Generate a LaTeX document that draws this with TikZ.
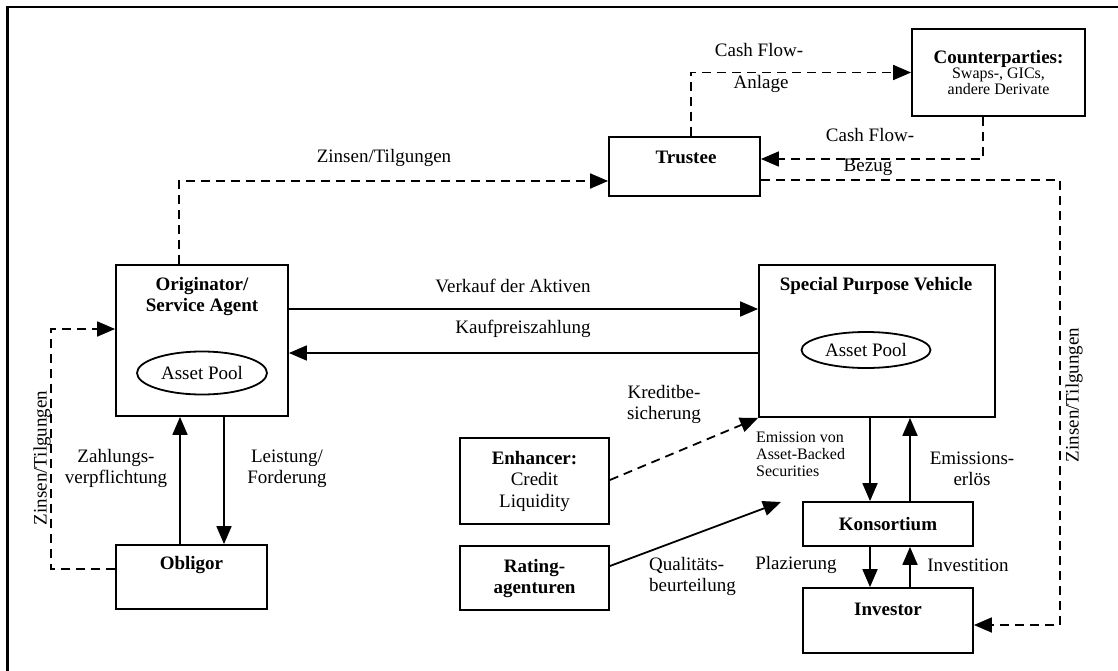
\documentclass[tikz,border=0pt]{standalone}
\usepackage{fontspec}
\setmainfont{Liberation Serif}
\usetikzlibrary{arrows.meta,shapes.geometric}
\begin{document}
\begin{tikzpicture}[x=1pt,y=-1pt,
  box/.style={draw,line width=1.8pt,inner sep=0pt},
  conn/.style={line width=1.8pt,-{Triangle[length=18pt,width=15pt]}},
  dsh/.style={conn,dash pattern=on 9pt off 6pt},
  lbl/.style={font=\fontsize{19}{21}\selectfont,align=center,inner sep=0pt},
  ttl/.style={font=\fontsize{19}{21}\selectfont\bfseries,align=center,inner sep=0pt},
  sml/.style={font=\fontsize{16}{17}\selectfont,align=left,inner sep=0pt},
  pool/.style={draw,ellipse,line width=1.8pt,inner sep=0pt,font=\fontsize{19}{21}\selectfont}]
\useasboundingbox (0,0) rectangle (1118,671);
% frame
\draw[line width=2.6pt] (7.5,671) -- (7.5,7) -- (1118,7);

% boxes
\node[box,minimum width=151pt,minimum height=59pt] (trustee) at (684.5,166.5) {};
\node[box,minimum width=173pt,minimum height=87pt,align=center] (cp) at (998.5,72.5)
  {{\fontsize{19}{21}\selectfont\bfseries Counterparties:}\\[-1pt]
   {\fontsize{16}{16}\selectfont Swaps-, GICs,}\\
   {\fontsize{16}{16}\selectfont andere Derivate}};
\node[box,minimum width=172pt,minimum height=151pt] (orig) at (202,340.5) {};
\node[box,minimum width=236pt,minimum height=152pt] (spv) at (877,341) {};
\node[box,minimum width=151pt,minimum height=64pt] (obl) at (191.5,577) {};
\node[box,minimum width=149pt,minimum height=86pt,align=center,font=\fontsize{19}{21.5}\selectfont] (enh) at (534.5,481)
  {\textbf{Enhancer:}\\Credit\\Liquidity};
\node[box,minimum width=149pt,minimum height=64pt,align=center,font=\fontsize{19}{21}\selectfont\bfseries] (rat) at (534.5,578)
  {Rating-\\agenturen};
\node[box,minimum width=170pt,minimum height=44pt,font=\fontsize{19}{21}\selectfont\bfseries] (kons) at (888,524) {Konsortium};
\node[box,minimum width=170pt,minimum height=65pt] (inv) at (888,620.5) {};

% box titles
\node[ttl] (trustee-t) at (686,157) {Trustee};
\node[ttl] (orig-t) at (202,296.5) {Originator/\\Service Agent};
\node[ttl] (spv-t) at (876,286) {Special Purpose Vehicle};
\node[ttl] (obl-t) at (191.5,565) {Obligor};
\node[ttl] (inv-t) at (888,609) {Investor};

% asset pools
\node[pool,minimum width=130pt,minimum height=43pt] (pool1) at (202,373) {Asset Pool};
\node[pool,minimum width=129pt,minimum height=36pt] (pool2) at (866,350) {Asset Pool};

% connectors
\draw[dsh] ([xshift=-23pt]orig.north) |- ([yshift=-14.5pt]trustee.west);
\draw[dsh] ([xshift=6.5pt]trustee.north) |- (cp.west);
\draw[dsh] ([xshift=-15.5pt]cp.south) |- ([yshift=7.5pt]trustee.east);
\draw[dsh] ([yshift=-13.5pt]trustee.east) -- ++(299,0) |- ([yshift=-4.5pt]inv.east);
\draw[conn] ([yshift=31.5pt]orig.east) -- ([yshift=31.5pt]orig.east -| spv.west);
\draw[conn] ([yshift=-12.5pt]orig.east -| spv.west) -- ([yshift=-12.5pt]orig.east);
\draw[conn] ([xshift=-11.5pt]obl.north) -- ([xshift=-11.5pt]obl.north |- orig.south);
\draw[conn] ([xshift=22pt]orig.south) -- ([xshift=22pt]orig.south |- obl.north);
\draw[dsh] ([yshift=8pt]obl.west) -- ++(-64,0) |- ([yshift=11.5pt]orig.west);
\draw[dsh] ([yshift=1pt]enh.east) -- (spv.south west);
\coordinate (ratingtip) at (781,502);
\draw[conn] ([yshift=12pt]rat.east) -- (ratingtip);
\draw[conn] ([xshift=-18pt]kons.north |- spv.south) -- ([xshift=-18pt]kons.north);
\draw[conn] ([xshift=22pt]kons.north) -- ([xshift=22pt]kons.north |- spv.south);
\draw[conn] ([xshift=-18pt]kons.south) -- ([xshift=-18pt]kons.south |- inv.north);
\draw[conn] ([xshift=22pt]kons.south |- inv.north) -- ([xshift=22pt]kons.south);

% labels
\node[lbl] (l-zt1) at (384,158) {Zinsen/Tilgungen};
\node[lbl] (l-cfa1) at (759,50) {Cash Flow-};
\node[lbl] (l-cfa2) at (761,84) {Anlage};
\node[lbl] (l-cfb1) at (870,135) {Cash Flow-};
\node[lbl] (l-cfb2) at (868,167) {Bezug};
\node[lbl] (l-verk) at (513,286) {Verkauf der Aktiven};
\node[lbl] (l-kauf) at (523,329) {Kaufpreiszahlung};
\node[lbl] (l-zahl) at (116,468.5) {Zahlungs-\\verpflichtung};
\node[lbl] (l-leis) at (287,468.5) {Leistung/\\Forderung};
\node[lbl,rotate=90] (l-zt2) at (42,458) {Zinsen/Tilgungen};
\node[lbl,rotate=90] (l-zt3) at (1074,395) {Zinsen/Tilgungen};
\node[lbl] (l-kred) at (664,404.5) {Kreditbe-\\sicherung};
\node[sml,anchor=west] (l-emis) at (756,454) {Emission von\\Asset-Backed\\Securities};
\node[lbl] (l-erl) at (972,469) {Emissions-\\erlös};
\node[lbl,align=left,anchor=west] (l-qual) at (649,576) {Qualitäts-\\beurteilung};
\node[lbl] (l-plaz) at (796,565) {Plazierung};
\node[lbl] (l-inv) at (968,565) {Investition};
\end{tikzpicture}
\end{document}
